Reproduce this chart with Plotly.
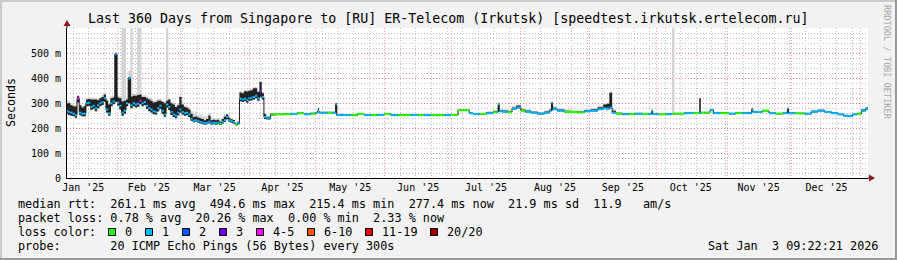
import plotly.graph_objects as go
from datetime import datetime, timedelta

# ---------------- data ----------------
range_start = datetime(2025, 1, 9, 4, 0, 0)
range_days = 360

# sample positions, days after range_start
day_offsets = list(range(93)) + [
    95, 99, 102, 105, 108, 111, 112.5, 113, 113.5, 116,
    118, 120.5, 121, 121.5, 126, 129, 132, 135, 138, 141,
    144, 147, 150, 153, 156, 159, 162, 165, 168, 171,
    174, 175.5, 176, 179, 180.5, 181, 184, 187, 190, 193,
    193.5, 194, 194.5, 197, 199, 201, 203, 205, 207, 210,
    213, 216, 217.5, 218, 218.5, 222, 225, 228, 231, 234,
    237, 240, 242, 243, 244.5, 245.5, 248, 251, 254, 257,
    260, 262.5, 263, 263.5, 268, 271, 272.8, 273.3, 276, 279,
    283.8, 284.5, 285.2, 288, 290, 291, 296, 299, 302, 305,
    307.5, 308, 308.5, 311, 314, 317, 320, 323.5, 324, 324.5,
    330, 333, 336, 339, 342, 345, 348, 350, 352, 354,
    356, 358, 360]

# median round trip time (ms)
median_ms = [
    270, 265, 262, 258, 252, 318, 262, 258, 258, 300,
    302, 285, 290, 280, 292, 300, 305, 320, 275, 260,
    300, 308, 495, 303, 290, 262, 270, 300, 400, 292,
    300, 295, 298, 310, 300, 305, 290, 280, 275, 268,
    265, 280, 290, 270, 255, 295, 285, 265, 255, 250,
    262, 275, 265, 260, 262, 255, 238, 230, 232, 228,
    225, 222, 220, 222, 226, 220, 222, 220, 222, 218,
    225, 232, 245, 232, 228, 225, 215, 220, 318, 315,
    318, 312, 320, 322, 325, 330, 320, 345, 325, 245,
    240, 240, 255,
    255, 256, 257, 260, 256, 258, 262, 270, 262, 262,
    262, 262, 296, 252, 253, 252, 257, 252, 252, 253,
    257, 252, 252, 252, 253, 252, 252, 252, 252, 252,
    253, 253, 272, 272, 272, 260, 257, 257, 260, 264,
    264, 295, 268, 266, 264, 278, 283, 270, 266, 262,
    258, 262, 270, 300, 276, 270, 265, 265, 263, 268,
    270, 276, 280, 278, 282, 262, 258, 256, 256, 258,
    257, 257, 268, 256, 255, 256, 258, 258, 258, 260,
    260, 262, 262, 262, 272, 260, 260, 258, 260, 260,
    260, 275, 265, 265, 270, 260, 258, 260, 278, 260,
    259, 258, 266, 270, 265, 260, 255, 250, 248, 255,
    258, 270, 278]

# lost pings out of 20
loss_count = [
    1, 1, 1, 1, 1, 4, 1, 1, 1, 1,
    1, 1, 1, 1, 1, 1, 1, 1, 1, 1,
    1, 1, 2, 1, 1, 1, 1, 1, 1, 1,
    1, 1, 1, 4, 1, 1, 1, 1, 1, 1,
    1, 1, 1, 1, 1, 1, 1, 1, 1, 1,
    1, 1, 1, 1, 1, 1, 1, 1, 1, 1,
    1, 1, 1, 1, 1, 1, 1, 1, 1, 0,
    1, 1, 1, 1, 1, 1, 0, 1, 1, 1,
    1, 1, 1, 1, 1, 1, 1, 3, 1, 1,
    1, 1, 0,
    0, 0, 1, 0, 1, 0, 1, 1, 1, 1,
    0, 1, 1, 1, 1, 0, 0, 1, 0, 1,
    0, 1, 0, 0, 1, 0, 1, 0, 0, 1,
    0, 0, 0, 0, 0, 1, 1, 0, 1, 0,
    1, 1, 1, 1, 0, 1, 1, 0, 1, 1,
    1, 1, 1, 1, 1, 1, 0, 0, 0, 1,
    1, 1, 1, 1, 1, 1, 0, 1, 0, 1,
    0, 1, 1, 1, 0, 1, 0, 0, 0, 1,
    0, 1, 0, 0, 1, 1, 0, 1, 0, 1,
    1, 1, 1, 1, 0, 1, 0, 1, 1, 1,
    0, 1, 1, 1, 1, 1, 1, 1, 1, 1,
    0, 1, 1]

# dense smoke: ms below / above the median
smoke_below = [
    12, 12, 12, 10, 10, 15, 10, 10, 10, 12,
    12, 12, 12, 12, 12, 12, 12, 14, 12, 10,
    12, 12, 190, 12, 15, 12, 12, 12, 100, 12,
    12, 12, 12, 14, 12, 12, 12, 12, 12, 12,
    10, 12, 12, 12, 10, 12, 12, 12, 10, 10,
    10, 12, 10, 10, 10, 10, 8, 6, 6, 6,
    6, 6, 6, 6, 6, 6, 6, 6, 6, 5,
    6, 6, 8, 6, 6, 6, 4, 5, 10, 10,
    10, 10, 10, 10, 10, 10, 10, 20, 10, 8,
    5, 5, 4,
    2, 2, 2, 2, 2, 2, 2, 3, 2, 2,
    2, 2, 34, 2, 2, 2, 2, 2, 2, 2,
    2, 2, 2, 2, 2, 2, 2, 2, 2, 2,
    2, 2, 2, 2, 2, 2, 2, 2, 2, 2,
    2, 28, 2, 2, 2, 3, 3, 2, 2, 2,
    2, 2, 2, 30, 2, 2, 2, 2, 2, 2,
    2, 3, 3, 3, 5, 2, 2, 2, 2, 2,
    2, 2, 2, 2, 2, 2, 2, 2, 2, 2,
    2, 2, 2, 2, 2, 2, 2, 2, 2, 2,
    2, 3, 2, 2, 2, 2, 2, 2, 2, 2,
    2, 2, 2, 2, 2, 2, 2, 2, 2, 2,
    2, 2, 3]

smoke_above = [
    30, 35, 30, 30, 35, 10, 30, 25, 30, 15,
    15, 30, 25, 35, 20, 20, 20, 15, 35, 35,
    20, 15, 5, 20, 30, 45, 40, 15, 5, 35,
    30, 35, 35, 25, 25, 20, 30, 35, 35, 35,
    40, 30, 20, 35, 45, 15, 30, 35, 40, 35,
    30, 50, 30, 25, 20, 20, 20, 15, 15, 15,
    15, 15, 12, 15, 25, 12, 12, 12, 12, 8,
    12, 15, 10, 10, 8, 8, 5, 6, 25, 25,
    30, 35, 30, 30, 35, 30, 25, 40, 15, 12,
    6, 6, 4,
    3, 3, 3, 3, 3, 4, 3, 10, 3, 3,
    3, 3, 5, 4, 3, 3, 3, 3, 3, 3,
    3, 3, 3, 3, 3, 3, 3, 3, 3, 3,
    3, 3, 3, 3, 3, 3, 3, 3, 4, 5,
    5, 5, 5, 5, 5, 5, 8, 5, 5, 4,
    4, 5, 5, 5, 6, 5, 5, 4, 4, 5,
    6, 8, 15, 20, 60, 8, 4, 3, 3, 3,
    3, 3, 4, 3, 3, 3, 3, 3, 3, 3,
    3, 58, 3, 3, 4, 3, 3, 3, 3, 3,
    3, 5, 3, 3, 3, 3, 3, 3, 4, 3,
    3, 3, 4, 4, 3, 3, 3, 3, 3, 3,
    3, 5, 5]

# sparse smoke: highest ping above the median (ms)
smoke_max_above = [
    40, 45, 38, 38, 42, 15, 38, 32, 38, 22,
    22, 38, 32, 42, 28, 25, 28, 22, 42, 42,
    28, 22, 10, 28, 38, 345, 337, 22, 30, 315,
    38, 42, 309, 297, 32, 28, 38, 42, 42, 42,
    48, 38, 28, 42, 52, 312, 38, 42, 48, 42,
    38, 55, 38, 32, 28, 28, 32, 28, 35, 25,
    32, 25, 28, 25, 35, 25, 20, 20, 20, 12,
    20, 25, 15, 12, 10, 10, 6, 8, 30, 30,
    35, 40, 35, 35, 40, 35, 30, 45, 20, 16,
    8, 8, 5,
    6, 6, 6, 6, 6, 6, 6, 14, 6, 6,
    6, 6, 8, 6, 5, 5, 5, 5, 5, 5,
    5, 5, 5, 5, 5, 5, 5, 5, 5, 5,
    5, 5, 5, 5, 5, 5, 5, 5, 8, 10,
    10, 10, 10, 10, 10, 12, 12, 10, 10, 8,
    8, 10, 10, 10, 12, 10, 10, 8, 8, 10,
    12, 15, 20, 25, 65, 15, 8, 6, 6, 6,
    6, 6, 8, 6, 6, 6, 350, 6, 6, 6,
    6, 60, 6, 6, 8, 6, 6, 6, 6, 6,
    6, 8, 6, 6, 6, 6, 6, 6, 8, 6,
    6, 6, 8, 8, 6, 6, 6, 6, 6, 6,
    6, 8, 8]

loss_upper = [0, 1, 2, 3, 5, 10, 19, 20]
loss_labels = ["0", "1", "2", "3", "4-5", "6-10", "11-19", "20/20"]
loss_colors = ["#26ff00", "#00b8ff", "#0059ff", "#7000ff",
               "#ff00ff", "#ff5500", "#ff0000", "#a10000"]

y_tick_vals = [0, 100, 200, 300, 400, 500]
y_tick_text = ["0", "100 m", "200 m", "300 m", "400 m", "500 m"]

title_text = "Last 360 Days from Singapore to [RU] ER-Telecom (Irkutsk) [speedtest.irkutsk.ertelecom.ru]"
line_median = "median rtt:  261.1 ms avg  494.6 ms max  215.4 ms min  277.4 ms now  21.9 ms sd  11.9   am/s"
line_loss = "packet loss: 0.78 % avg  20.26 % max  0.00 % min  2.33 % now"
line_color = "loss color:"
line_probe = "probe:       20 ICMP Echo Pings (56 Bytes) every 300s"
stamp_text = "Sat Jan  3 09:22:21 2026"
watermark = "RRDTOOL / TOBI OETIKER"

# ---------------- geometry / style ----------------
W, H = 897, 260
PL, PR, PT, PB = 67, 868, 28, 178
MONO = "DejaVu Sans Mono"


def px(x):
    return (x - PL) / (PR - PL)


def py(y):
    return (PB - y) / (PB - PT)


def nb(s):
    return s.replace(" ", "\u00a0")


range_end = range_start + timedelta(days=range_days)
dates = [range_start + timedelta(days=d) for d in day_offsets]
n = len(dates)
lo = [m - b for m, b in zip(median_ms, smoke_below)]
hi = [m + a for m, a in zip(median_ms, smoke_above)]
top = [m + a for m, a in zip(median_ms, smoke_max_above)]

fig = go.Figure()


def band(y0, y1, color):
    fig.add_trace(go.Scatter(x=dates, y=y0, mode="lines",
                             line=dict(width=0, shape="hvh", simplify=False),
                             hoverinfo="skip"))
    fig.add_trace(go.Scatter(x=dates, y=y1, mode="lines",
                             line=dict(width=0, shape="hvh", simplify=False),
                             fill="tonexty", fillcolor=color, hoverinfo="skip"))


band(lo, top, "#d4d4d4")   # sparse smoke
band(lo, hi, "#222222")    # dense smoke

# median: dark vertical joins + coloured horizontal pieces per sample
fig.add_trace(go.Scatter(x=dates, y=median_ms, mode="lines",
                         line=dict(width=1, color="#1a1a1a", shape="hvh", simplify=False),
                         hoverinfo="skip"))


def loss_class(c):
    for k, ub in enumerate(loss_upper):
        if c <= ub:
            return k
    return len(loss_upper) - 1


cls = [loss_class(c) for c in loss_count]


def edge(i, j):
    return dates[i] + (dates[j] - dates[i]) / 2


seg_x = {k: [] for k in range(len(loss_colors))}
seg_y = {k: [] for k in range(len(loss_colors))}
for i in range(n):
    left = edge(i - 1, i) if i > 0 else dates[0]
    right = edge(i, i + 1) if i < n - 1 else dates[-1]
    k = cls[i]
    seg_x[k] += [left, right, None]
    seg_y[k] += [median_ms[i], median_ms[i], None]

for k in range(len(loss_colors)):
    if seg_x[k]:
        fig.add_trace(go.Scatter(x=seg_x[k], y=seg_y[k], mode="lines",
                                 line=dict(color=loss_colors[k], width=2, simplify=False),
                                 connectgaps=False, hoverinfo="skip"))

MGRID = "rgba(232,90,90,0.55)"
GRID = "#c2c2c2"

fig.update_layout(
    width=W, height=H,
    margin=dict(l=PL, r=W - PR, t=PT, b=H - PB, pad=0, autoexpand=False),
    paper_bgcolor="#f2f2f2", plot_bgcolor="#ffffff",
    showlegend=False, hovermode=False,
    font=dict(family=MONO, color="#000000", size=10),
    xaxis=dict(type="date", range=[range_start, range_end],
               tickmode="linear", tick0="2025-01-01", dtick="M1",
               ticklabelmode="period", tickformat="%b '%y",
               tickfont=dict(family=MONO, size=10, color="#000"),
               showgrid=True, gridcolor=MGRID, griddash="1px,2px", gridwidth=1,
               showline=True, linecolor="#000000", linewidth=1,
               ticks="", zeroline=False, fixedrange=True,
               minor=dict(tickmode="linear", tick0="2025-01-12", dtick=7 * 86400000,
                          showgrid=True, gridcolor=GRID, griddash="1px,2px", gridwidth=1)),
    yaxis=dict(range=[0, 602], tickmode="array", tickvals=y_tick_vals, ticktext=y_tick_text,
               tickfont=dict(family=MONO, size=10, color="#000"),
               showgrid=True, gridcolor=MGRID, griddash="1px,2px", gridwidth=1,
               showline=True, linecolor="#000000", linewidth=1,
               ticks="", zeroline=False, fixedrange=True, ticklabelstandoff=3,
               minor=dict(tickmode="linear", tick0=0, dtick=20,
                          showgrid=True, gridcolor=GRID, griddash="1px,2px", gridwidth=1)),
)

ann = []


def add_text(text, x, y, size, xanchor="left", color="#000000", angle=0):
    ann.append(dict(text=nb(text), x=px(x), y=py(y), xref="paper", yref="paper",
                    xanchor=xanchor, yanchor="middle", showarrow=False, textangle=angle,
                    font=dict(family=MONO, size=size, color=color)))


add_text(title_text, 448.5, 19, 13.3, xanchor="center")
add_text("Seconds", 11, 103, 11.6, xanchor="center", angle=-90)
add_text(line_median, 16, 204.3, 11.8)
add_text(line_loss, 16, 218.3, 11.8)
add_text(line_color, 16, 232.3, 11.8)
add_text(line_probe, 16, 246.3, 11.8)
add_text(stamp_text, 880, 246.3, 11.8, xanchor="right")
add_text(watermark, 887, 62, 8.6, xanchor="center", color="#a8a8a8", angle=90)

shapes = []
square_px = [108.5, 145.5, 182.5, 219.5, 256.5, 307.5, 365.5, 430.5]
for k, sx in enumerate(square_px):
    shapes.append(dict(type="rect", xref="paper", yref="paper",
                       x0=px(sx), x1=px(sx + 7), y0=py(235.5), y1=py(228.5),
                       fillcolor=loss_colors[k], line=dict(color="#000000", width=1)))
    add_text(loss_labels[k], sx + 14.5, 232.3, 11.8)

ARROW = "#8b1a1a"
# axis extensions and arrows
shapes.append(dict(type="line", xref="paper", yref="paper", x0=px(67), x1=px(67),
                   y0=py(PT), y1=py(24), line=dict(color="#000000", width=1)))
shapes.append(dict(type="path", xref="paper", yref="paper",
                   path=f"M {px(63.5)},{py(26)} L {px(70.5)},{py(26)} L {px(67)},{py(20)} Z",
                   fillcolor=ARROW, line=dict(width=0)))
shapes.append(dict(type="line", xref="paper", yref="paper", x0=px(PR), x1=px(871),
                   y0=py(178), y1=py(178), line=dict(color="#000000", width=1)))
shapes.append(dict(type="path", xref="paper", yref="paper",
                   path=f"M {px(869)},{py(174.5)} L {px(869)},{py(181.5)} L {px(875)},{py(178)} Z",
                   fillcolor=ARROW, line=dict(width=0)))
# 3D frame
shapes.append(dict(type="line", xref="paper", yref="paper", x0=px(0), x1=px(W),
                   y0=py(1), y1=py(1), line=dict(color="#cbcbcb", width=2)))
shapes.append(dict(type="line", xref="paper", yref="paper", x0=px(1), x1=px(1),
                   y0=py(0), y1=py(H), line=dict(color="#cbcbcb", width=2)))
shapes.append(dict(type="line", xref="paper", yref="paper", x0=px(0), x1=px(W),
                   y0=py(H - 1), y1=py(H - 1), line=dict(color="#999999", width=2)))
shapes.append(dict(type="line", xref="paper", yref="paper", x0=px(W - 1), x1=px(W - 1),
                   y0=py(0), y1=py(H), line=dict(color="#999999", width=2)))

fig.update_layout(annotations=ann, shapes=shapes)
fig.write_html("out.html")
